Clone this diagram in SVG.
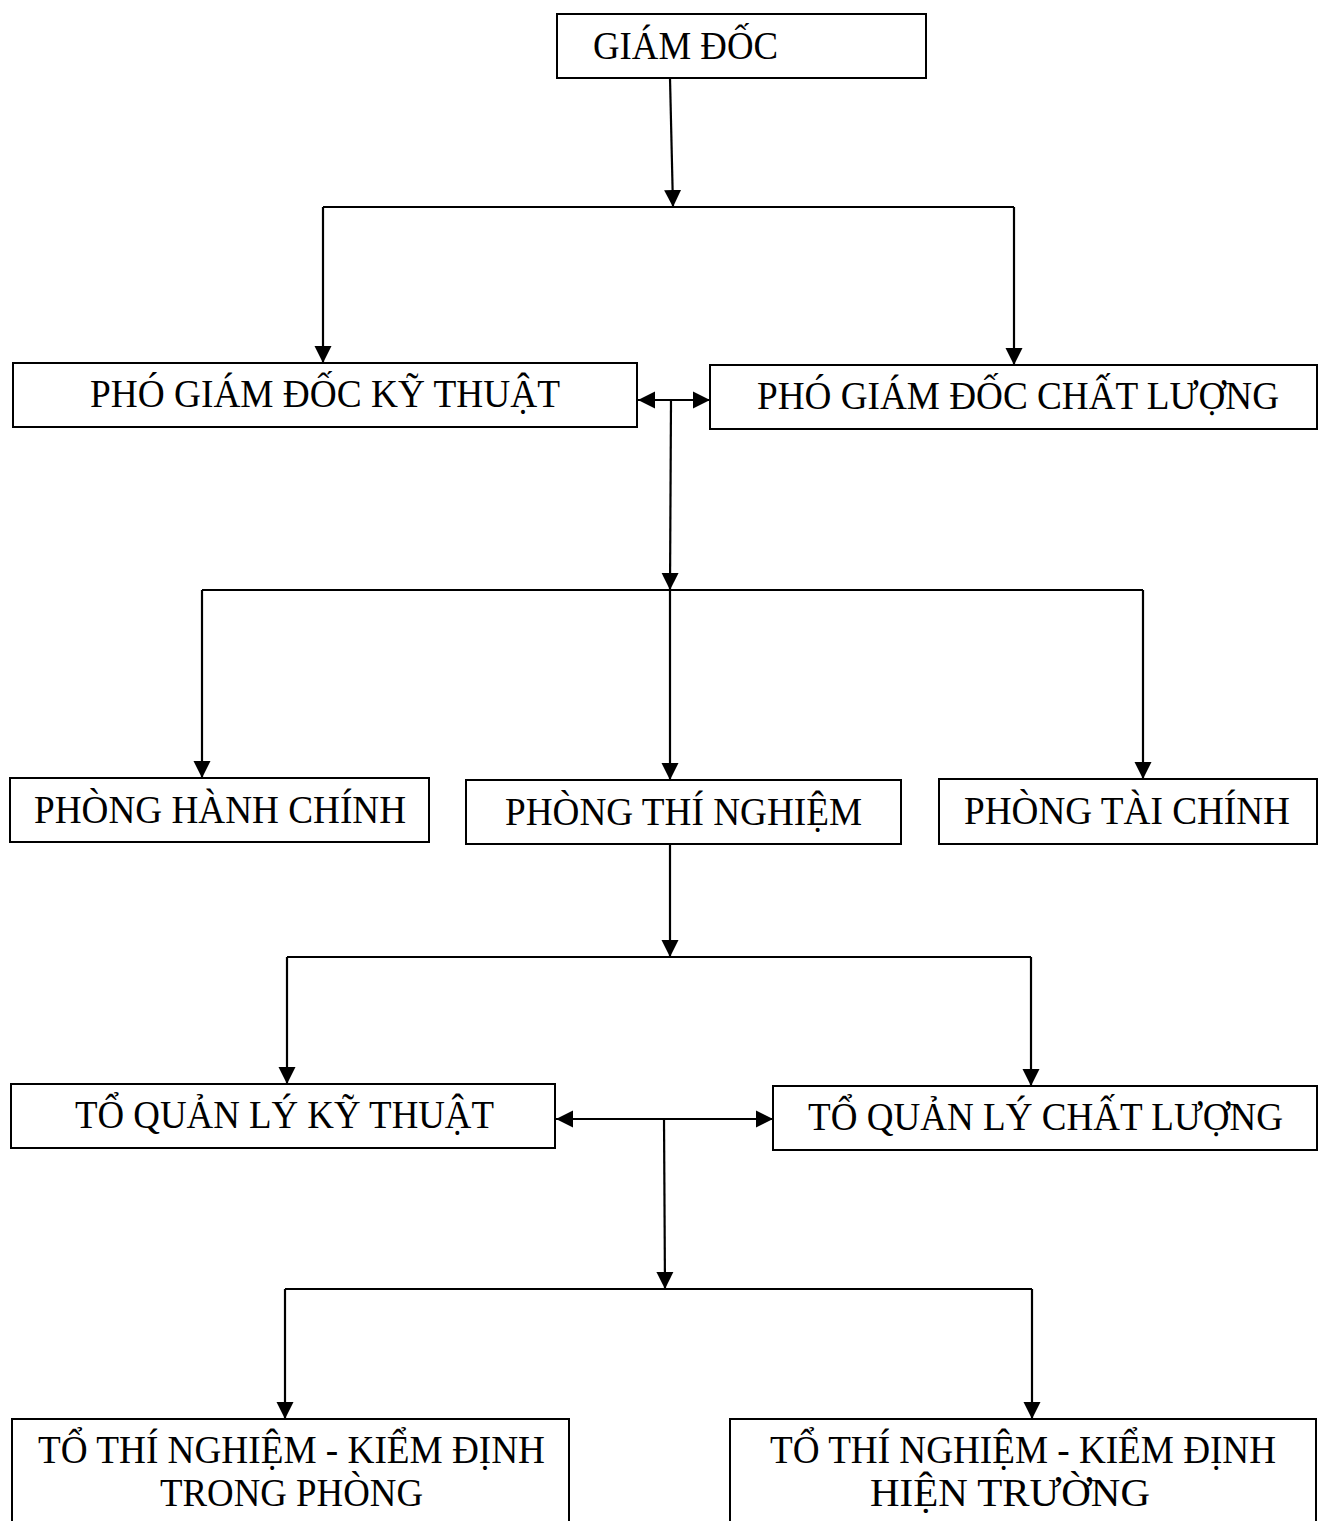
<svg xmlns="http://www.w3.org/2000/svg" width="1319" height="1521" viewBox="0 0 1319 1521">
<style>
.box{fill:#fff;stroke:#000;stroke-width:2}
.t{font-family:"Liberation Serif","Times New Roman",serif;font-size:39px;fill:#000}
.ln{fill:none;stroke:#000;stroke-width:2.2}
</style>
<defs>
<marker id="ah" markerUnits="userSpaceOnUse" markerWidth="18" markerHeight="18" refX="17" refY="8.5" orient="auto-start-reverse" viewBox="0 0 18 17">
<path d="M0,0 L17,8.5 L0,17 Z" fill="#000"/>
</marker>
</defs>
<rect width="1319" height="1521" fill="#fff"/>
<g id="connectors">
<path class="ln" d="M670,78 L673,207" marker-end="url(#ah)"/>
<path class="ln" d="M323,207 L1014,207"/>
<path class="ln" d="M323,207 L323,363" marker-end="url(#ah)"/>
<path class="ln" d="M1014,207 L1014,365" marker-end="url(#ah)"/>
<path class="ln" d="M638,400 L710,400" marker-start="url(#ah)" marker-end="url(#ah)"/>
<path class="ln" d="M671,400 L670,590" marker-end="url(#ah)"/>
<path class="ln" d="M202,590 L1143,590"/>
<path class="ln" d="M202,590 L202,778" marker-end="url(#ah)"/>
<path class="ln" d="M670,590 L670,780" marker-end="url(#ah)"/>
<path class="ln" d="M1143,590 L1143,779" marker-end="url(#ah)"/>
<path class="ln" d="M670,844 L670,957" marker-end="url(#ah)"/>
<path class="ln" d="M287,957 L1031,957"/>
<path class="ln" d="M287,957 L287,1084" marker-end="url(#ah)"/>
<path class="ln" d="M1031,957 L1031,1086" marker-end="url(#ah)"/>
<path class="ln" d="M556,1119 L773,1119" marker-start="url(#ah)" marker-end="url(#ah)"/>
<path class="ln" d="M664,1119 L665,1289" marker-end="url(#ah)"/>
<path class="ln" d="M285,1289 L1032,1289"/>
<path class="ln" d="M285,1289 L285,1419" marker-end="url(#ah)"/>
<path class="ln" d="M1032,1289 L1032,1419" marker-end="url(#ah)"/>
</g>
<g id="giam-doc">
<rect class="box" x="557" y="14" width="369" height="64"/>
<text class="t" x="593" y="59" textLength="185" lengthAdjust="spacingAndGlyphs">GIÁM ĐỐC</text>
</g>
<g id="pgd-ky-thuat">
<rect class="box" x="13" y="363" width="624" height="64"/>
<text class="t" x="90" y="407" textLength="470" lengthAdjust="spacingAndGlyphs">PHÓ GIÁM ĐỐC KỸ THUẬT</text>
</g>
<g id="pgd-chat-luong">
<rect class="box" x="710" y="365" width="607" height="64"/>
<text class="t" x="757" y="409" textLength="522" lengthAdjust="spacingAndGlyphs">PHÓ GIÁM ĐỐC CHẤT LƯỢNG</text>
</g>
<g id="phong-hanh-chinh">
<rect class="box" x="10" y="778" width="419" height="64"/>
<text class="t" x="34" y="823" textLength="372" lengthAdjust="spacingAndGlyphs">PHÒNG HÀNH CHÍNH</text>
</g>
<g id="phong-thi-nghiem">
<rect class="box" x="466" y="780" width="435" height="64"/>
<text class="t" x="505" y="825" textLength="357" lengthAdjust="spacingAndGlyphs">PHÒNG THÍ NGHIỆM</text>
</g>
<g id="phong-tai-chinh">
<rect class="box" x="939" y="779" width="378" height="65"/>
<text class="t" x="964" y="824" textLength="326" lengthAdjust="spacingAndGlyphs">PHÒNG TÀI CHÍNH</text>
</g>
<g id="to-ql-ky-thuat">
<rect class="box" x="11" y="1084" width="544" height="64"/>
<text class="t" x="75" y="1128" textLength="419" lengthAdjust="spacingAndGlyphs">TỔ QUẢN LÝ KỸ THUẬT</text>
</g>
<g id="to-ql-chat-luong">
<rect class="box" x="773" y="1086" width="544" height="64"/>
<text class="t" x="808" y="1130" textLength="475" lengthAdjust="spacingAndGlyphs">TỔ QUẢN LÝ CHẤT LƯỢNG</text>
</g>
<g id="to-tn-trong-phong">
<rect class="box" x="12" y="1419" width="557" height="120"/>
<text class="t" x="38" y="1463" textLength="507" lengthAdjust="spacingAndGlyphs">TỔ THÍ NGHIỆM - KIỂM ĐỊNH</text>
<text class="t" x="160" y="1506" textLength="263" lengthAdjust="spacingAndGlyphs">TRONG PHÒNG</text>
</g>
<g id="to-tn-hien-truong">
<rect class="box" x="730" y="1419" width="586" height="120"/>
<text class="t" x="770" y="1463" textLength="506" lengthAdjust="spacingAndGlyphs">TỔ THÍ NGHIỆM - KIỂM ĐỊNH</text>
<text class="t" x="870" y="1506" textLength="280" lengthAdjust="spacingAndGlyphs">HIỆN TRƯỜNG</text>
</g>
</svg>
